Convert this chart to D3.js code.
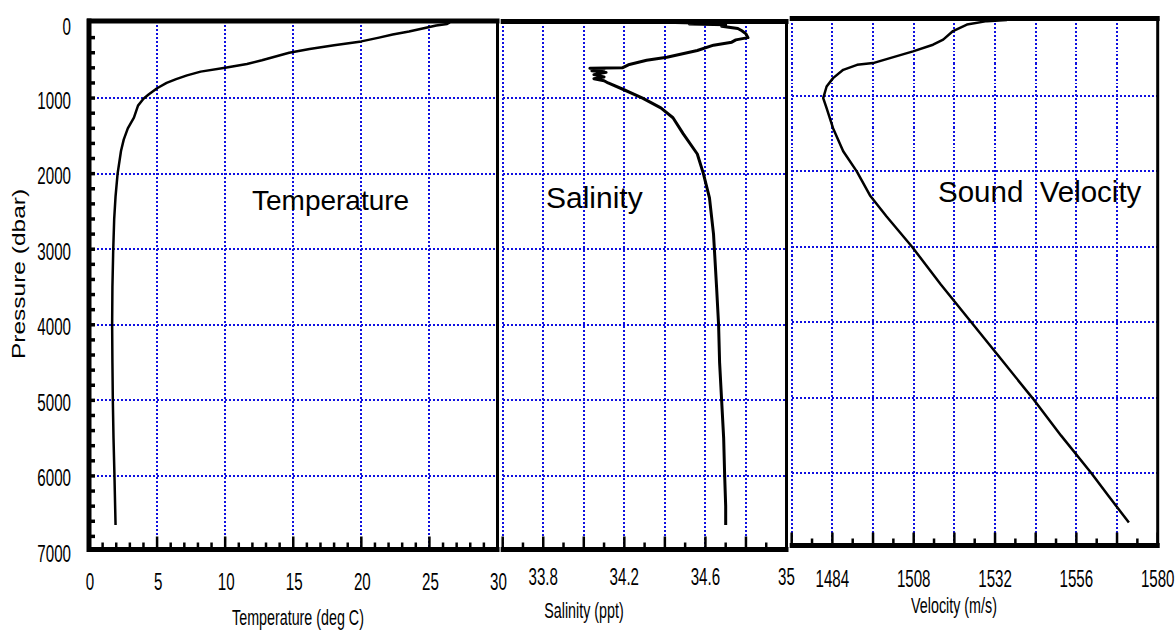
<!DOCTYPE html>
<html>
<head>
<meta charset="utf-8">
<script src="https://cdn.jsdelivr.net/npm/d3@7"></script>
<style>
  body { margin: 0; background: #fff; }
  svg { display: block; font-family: "Liberation Sans", Arial, sans-serif; }
</style>
</head>
<body>
<svg id="chart" width="1176" height="632"></svg>
<script>
// Profile data (pressure in dbar)
const tempPressure = [0, 20, 40, 80, 120, 160, 200, 250, 300, 350, 400, 450, 500, 550, 600, 650, 700, 750, 800, 870, 950, 1010, 1100, 1260, 1400, 1550, 1700, 2000, 2300, 2600, 3000, 3500, 4000, 4500, 5000, 5500, 6000, 6650];
const tempValues = [26.5, 26.3, 25.5, 24.5, 23.5, 22.3, 21.3, 20.0, 18.0, 16.2, 14.7, 13.7, 12.7, 11.6, 10.0, 8.2, 7.2, 6.4, 5.7, 5.0, 4.4, 4.0, 3.6, 3.3, 2.85, 2.55, 2.35, 2.1, 1.95, 1.85, 1.78, 1.72, 1.70, 1.72, 1.75, 1.8, 1.87, 1.95];

const salPressure = [0, 10, 20, 30, 50, 80, 110, 150, 200, 230, 260, 300, 370, 460, 500, 560, 600, 605, 620, 640, 660, 690, 720, 745, 770, 800, 880, 1000, 1130, 1260, 1470, 1740, 2000, 2320, 2800, 3500, 4000, 4500, 5000, 5500, 6000, 6400, 6650];
const salValues = [34.45, 34.6, 34.52, 34.7, 34.68, 34.76, 34.78, 34.8, 34.81, 34.75, 34.73, 34.64, 34.56, 34.41, 34.31, 34.22, 34.19, 34.03, 34.1, 34.04, 34.11, 34.05, 34.1, 34.05, 34.1, 34.12, 34.19, 34.29, 34.38, 34.44, 34.49, 34.56, 34.59, 34.62, 34.64, 34.655, 34.665, 34.67, 34.68, 34.69, 34.695, 34.7, 34.7];

const svPressure = [0, 15, 60, 146, 260, 327, 415, 504, 570, 593, 659, 769, 880, 1034, 1167, 1432, 1737, 2003, 2321, 2600, 3000, 3500, 4000, 4500, 5000, 5500, 6000, 6300, 6650];
const svValues = [1535.5, 1529.6, 1523.7, 1519.6, 1516.7, 1513.7, 1507.8, 1501, 1496, 1491.3, 1487.2, 1484.2, 1482.3, 1481.3, 1482.3, 1484.2, 1487.2, 1491.2, 1495.1, 1500, 1507.5, 1516, 1525, 1534, 1543, 1551.5, 1560.5, 1565.5, 1571.5];

// Tick labels
const pressureTicks = [0, 1000, 2000, 3000, 4000, 5000, 6000, 7000];
const tempTicks = [0, 5, 10, 15, 20, 25, 30];
const salTicks = [33.8, 34.2, 34.6, 35];
const velTicks = [1484, 1508, 1532, 1556, 1580];

const svg = d3.select('#chart');
const GRID = '#1010e0';
const gridPressures = [1000, 2000, 3000, 4000, 5000, 6000];

// condensed text (the reference labels are squeezed horizontally)
function label(x, y, str, size, sx, anchor) {
    return svg.append('text')
        .attr('transform', `translate(${x},${y}) scale(${sx},1)`)
        .attr('font-size', size)
        .attr('text-anchor', anchor || 'middle')
        .attr('fill', '#000')
        .text(str);
}

function drawPanel(o) {
    const x = d3.scaleLinear().domain(o.domain).range([o.left, o.right]);
    const y = d3.scaleLinear().domain([0, 7000]).range([o.y0, o.y1]);
    const g = svg.append('g');

    // dotted blue grid, snapped to whole pixels so the dots stay sharp
    const grid = g.append('g')
        .attr('stroke', GRID)
        .attr('stroke-width', 2)
        .attr('stroke-dasharray', '2,2')
        .attr('shape-rendering', 'crispEdges');

    grid.selectAll('.vgrid')
        .data(d3.range(o.domain[0], o.domain[1] - o.gridStep / 2, o.gridStep).filter(v => o.gridFromLeft || v > o.domain[0]))
        .enter().append('line')
        .attr('x1', d => Math.round(x(d))).attr('x2', d => Math.round(x(d)))
        .attr('y1', o.top).attr('y2', o.bottom);

    grid.selectAll('.hgrid')
        .data(gridPressures)
        .enter().append('line')
        .attr('x1', o.left).attr('x2', o.right)
        .attr('y1', d => Math.round(y(d))).attr('y2', d => Math.round(y(d)));

    // bottom ticks pointing up
    const n = Math.round((o.domain[1] - o.domain[0]) / o.minorStep);
    const ticks = d3.range(0, n + 1).map(i => o.domain[0] + i * o.minorStep);
    g.selectAll('.btick')
        .data(ticks)
        .enter().append('line')
        .attr('x1', d => x(d)).attr('x2', d => x(d))
        .attr('y1', o.bottom)
        .attr('y2', (d, i) => o.bottom - (i % o.majorEvery === 0 ? 13 : 7))
        .attr('stroke', '#000').attr('stroke-width', 2.5);

    // frame
    g.append('line')
        .attr('x1', o.left - 2).attr('x2', o.right + 2)
        .attr('y1', o.top).attr('y2', o.top)
        .attr('stroke', '#000').attr('stroke-width', 5);
    g.append('line')
        .attr('x1', o.left - 2).attr('x2', o.right + 2)
        .attr('y1', o.bottom).attr('y2', o.bottom)
        .attr('stroke', '#000').attr('stroke-width', 5);
    g.append('line')
        .attr('x1', o.right).attr('x2', o.right)
        .attr('y1', o.top).attr('y2', o.bottom)
        .attr('stroke', '#000').attr('stroke-width', 3);

    // profile
    const line = d3.line()
        .x(d => x(d[1]))
        .y(d => y(d[0]));
    g.append('path')
        .datum(d3.zip(o.pressure, o.values))
        .attr('d', line)
        .attr('fill', 'none')
        .attr('stroke', '#000')
        .attr('stroke-width', o.lineWidth)
        .attr('stroke-linejoin', 'round');

    return { x, y };
}

// Temperature panel
const tp = drawPanel({
    domain: [0, 30], left: 89, right: 497.5, top: 21, bottom: 549.5, y0: 22.5, y1: 551.5,
    gridStep: 5, minorStep: 1, majorEvery: 5, gridFromLeft: false,
    pressure: tempPressure, values: tempValues, lineWidth: 2.5
});

// left pressure axis with inward ticks every 200 dbar
svg.append('g').selectAll('line')
    .data(d3.range(200, 7000, 200))
    .enter().append('line')
    .attr('x1', 89).attr('x2', 95)
    .attr('y1', d => tp.y(d)).attr('y2', d => tp.y(d))
    .attr('stroke', '#000').attr('stroke-width', 3.5);
svg.append('line')
    .attr('x1', 89).attr('x2', 89)
    .attr('y1', 18.5).attr('y2', 552)
    .attr('stroke', '#000').attr('stroke-width', 5);

// Salinity panel
const sp = drawPanel({
    domain: [33.6, 35], left: 502.7, right: 786.5, top: 21.5, bottom: 549.5, y0: 22.5, y1: 551.5,
    gridStep: 0.2, minorStep: 0.1, majorEvery: 2, gridFromLeft: true,
    pressure: salPressure, values: salValues, lineWidth: 3
});

// Sound velocity panel
const vp = drawPanel({
    domain: [1472, 1580], left: 791.7, right: 1157.7, top: 18.5, bottom: 545.5, y0: 20, y1: 549,
    gridStep: 12, minorStep: 6, majorEvery: 2, gridFromLeft: true,
    pressure: svPressure, values: svValues, lineWidth: 2.5
});

// pressure tick labels
pressureTicks.forEach(p => {
    label(71, Math.max(tp.y(p) + 10.5, 35), p, 24, 0.63, 'end');
});

// bottom tick labels
tempTicks.forEach(v => label(tp.x(v) + 1, 590, v, 24, 0.63));
salTicks.forEach(v => label(sp.x(v), 585, v, 24, 0.63));
velTicks.forEach(v => label(vp.x(v), 587, v, 24, 0.63));

// axis titles
label(298, 625, 'Temperature (deg C)', 22, 0.65);
label(584, 618, 'Salinity (ppt)', 22, 0.65);
label(954, 613, 'Velocity (m/s)', 22, 0.65);

svg.append('text')
    .attr('transform', 'translate(25,274) scale(0.73,1) rotate(-90)')
    .attr('font-size', 24.5)
    .attr('text-anchor', 'middle')
    .text('Pressure (dbar)');

// in-panel names
label(252, 210, 'Temperature', 28, 1, 'start');
label(546, 208, 'Salinity', 30, 1, 'start');
label(938, 202, 'Sound\u00a0\u00a0Velocity', 29.5, 1, 'start');
</script>
</body>
</html>
